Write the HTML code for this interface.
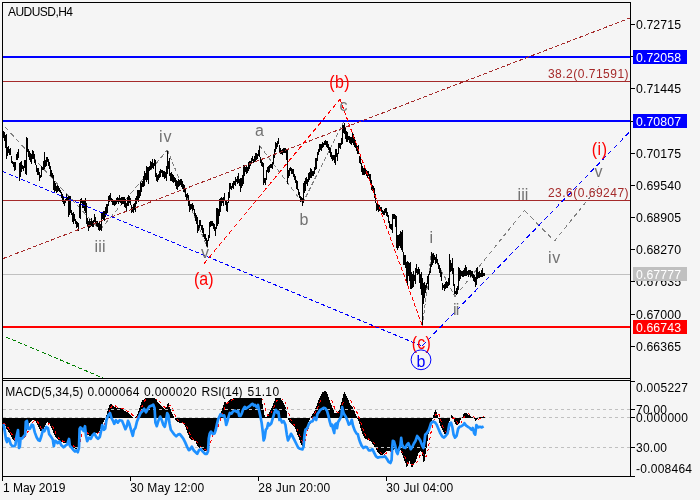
<!DOCTYPE html><html><head><meta charset="utf-8"><title>AUDUSD,H4</title>
<style>html,body{margin:0;padding:0;background:#f5f5f5;overflow:hidden}svg{display:block;will-change:transform}text{font-family:"Liberation Sans",Arial,sans-serif}</style></head><body>
<svg width="700" height="500" viewBox="0 0 700 500">
<rect width="700" height="500" fill="#f5f5f5"/>
<rect x="3" y="274" width="627" height="1" fill="#c0c0c0" shape-rendering="crispEdges"/>
<g fill="none" shape-rendering="crispEdges">
<line x1="5.0" y1="127.0" x2="100.0" y2="230.0" stroke="#808080" stroke-width="1" stroke-dasharray="4.90 3.26" />
<line x1="100.0" y1="230.0" x2="167.4" y2="150.0" stroke="#808080" stroke-width="1" stroke-dasharray="4.71 3.14" />
<line x1="167.4" y1="150.0" x2="207.5" y2="248.0" stroke="#808080" stroke-width="1" stroke-dasharray="3.89 2.59" />
<line x1="259.4" y1="145.5" x2="302.7" y2="203.0" stroke="#808080" stroke-width="1" stroke-dasharray="4.51 3.00" />
<line x1="302.7" y1="203.0" x2="343.6" y2="122.0" stroke="#808080" stroke-width="1" stroke-dasharray="4.03 2.69" />
<line x1="422.5" y1="326.0" x2="431.4" y2="252.0" stroke="#808080" stroke-width="1" stroke-dasharray="3.63 2.42" />
<line x1="431.4" y1="252.0" x2="455.0" y2="296.4" stroke="#808080" stroke-width="1" stroke-dasharray="4.08 2.72" />
<line x1="455.0" y1="296.4" x2="524.4" y2="210.4" stroke="#808080" stroke-width="1" stroke-dasharray="4.63 3.08" />
<line x1="524.4" y1="210.4" x2="554.4" y2="241.2" stroke="#808080" stroke-width="1" stroke-dasharray="5.03 3.35" />
<line x1="554.4" y1="241.2" x2="599.0" y2="186.0" stroke="#808080" stroke-width="1" stroke-dasharray="4.63 3.09" />
</g>
<g fill="#000" shape-rendering="crispEdges">
<rect x="3" y="131" width="1" height="7"/>
<rect x="4" y="132" width="1" height="9"/>
<rect x="5" y="135" width="1" height="13"/>
<rect x="6" y="134" width="1" height="25"/>
<rect x="7" y="147" width="1" height="9"/>
<rect x="8" y="146" width="1" height="7"/>
<rect x="9" y="149" width="1" height="6"/>
<rect x="10" y="148" width="1" height="7"/>
<rect x="11" y="156" width="1" height="7"/>
<rect x="12" y="161" width="1" height="3"/>
<rect x="13" y="162" width="1" height="5"/>
<rect x="14" y="162" width="1" height="9"/>
<rect x="15" y="162" width="1" height="8"/>
<rect x="16" y="154" width="1" height="6"/>
<rect x="17" y="152" width="1" height="8"/>
<rect x="18" y="149" width="1" height="9"/>
<rect x="19" y="163" width="1" height="18"/>
<rect x="20" y="162" width="1" height="15"/>
<rect x="21" y="161" width="1" height="11"/>
<rect x="22" y="165" width="1" height="4"/>
<rect x="23" y="166" width="1" height="5"/>
<rect x="24" y="160" width="1" height="8"/>
<rect x="25" y="160" width="1" height="14"/>
<rect x="26" y="137" width="1" height="38"/>
<rect x="27" y="138" width="1" height="14"/>
<rect x="28" y="149" width="1" height="8"/>
<rect x="29" y="151" width="1" height="9"/>
<rect x="30" y="153" width="1" height="9"/>
<rect x="31" y="154" width="1" height="10"/>
<rect x="32" y="150" width="1" height="9"/>
<rect x="33" y="151" width="1" height="8"/>
<rect x="34" y="154" width="1" height="9"/>
<rect x="35" y="160" width="1" height="5"/>
<rect x="36" y="165" width="1" height="7"/>
<rect x="37" y="168" width="1" height="7"/>
<rect x="38" y="168" width="1" height="7"/>
<rect x="39" y="172" width="1" height="9"/>
<rect x="40" y="175" width="1" height="3"/>
<rect x="41" y="166" width="1" height="11"/>
<rect x="42" y="167" width="1" height="3"/>
<rect x="43" y="161" width="1" height="9"/>
<rect x="44" y="152" width="1" height="17"/>
<rect x="45" y="160" width="1" height="7"/>
<rect x="46" y="157" width="1" height="9"/>
<rect x="47" y="157" width="1" height="5"/>
<rect x="48" y="159" width="1" height="7"/>
<rect x="49" y="162" width="1" height="7"/>
<rect x="50" y="166" width="1" height="10"/>
<rect x="51" y="170" width="1" height="7"/>
<rect x="52" y="173" width="1" height="5"/>
<rect x="53" y="175" width="1" height="15"/>
<rect x="54" y="181" width="1" height="12"/>
<rect x="55" y="183" width="1" height="8"/>
<rect x="56" y="186" width="1" height="7"/>
<rect x="57" y="185" width="1" height="7"/>
<rect x="58" y="186" width="1" height="5"/>
<rect x="59" y="188" width="1" height="4"/>
<rect x="60" y="190" width="1" height="3"/>
<rect x="61" y="192" width="1" height="6"/>
<rect x="62" y="194" width="1" height="8"/>
<rect x="63" y="196" width="1" height="8"/>
<rect x="64" y="200" width="1" height="6"/>
<rect x="65" y="199" width="1" height="4"/>
<rect x="66" y="194" width="1" height="7"/>
<rect x="67" y="197" width="1" height="3"/>
<rect x="68" y="196" width="1" height="21"/>
<rect x="69" y="196" width="1" height="19"/>
<rect x="70" y="196" width="1" height="17"/>
<rect x="71" y="210" width="1" height="5"/>
<rect x="72" y="213" width="1" height="9"/>
<rect x="73" y="212" width="1" height="12"/>
<rect x="74" y="214" width="1" height="7"/>
<rect x="75" y="219" width="1" height="5"/>
<rect x="76" y="221" width="1" height="7"/>
<rect x="77" y="222" width="1" height="5"/>
<rect x="78" y="223" width="1" height="8"/>
<rect x="79" y="204" width="1" height="14"/>
<rect x="80" y="199" width="1" height="20"/>
<rect x="81" y="198" width="1" height="5"/>
<rect x="82" y="200" width="1" height="8"/>
<rect x="83" y="201" width="1" height="7"/>
<rect x="84" y="201" width="1" height="10"/>
<rect x="85" y="198" width="1" height="15"/>
<rect x="86" y="203" width="1" height="21"/>
<rect x="87" y="218" width="1" height="8"/>
<rect x="88" y="221" width="1" height="10"/>
<rect x="89" y="219" width="1" height="9"/>
<rect x="90" y="221" width="1" height="6"/>
<rect x="91" y="218" width="1" height="8"/>
<rect x="92" y="221" width="1" height="6"/>
<rect x="93" y="220" width="1" height="7"/>
<rect x="94" y="214" width="1" height="8"/>
<rect x="95" y="217" width="1" height="7"/>
<rect x="96" y="221" width="1" height="5"/>
<rect x="97" y="221" width="1" height="6"/>
<rect x="98" y="223" width="1" height="7"/>
<rect x="99" y="222" width="1" height="9"/>
<rect x="100" y="224" width="1" height="6"/>
<rect x="101" y="212" width="1" height="19"/>
<rect x="102" y="212" width="1" height="7"/>
<rect x="103" y="211" width="1" height="9"/>
<rect x="104" y="211" width="1" height="10"/>
<rect x="105" y="207" width="1" height="10"/>
<rect x="106" y="204" width="1" height="10"/>
<rect x="107" y="204" width="1" height="9"/>
<rect x="108" y="196" width="1" height="10"/>
<rect x="109" y="195" width="1" height="7"/>
<rect x="110" y="193" width="1" height="7"/>
<rect x="111" y="198" width="1" height="4"/>
<rect x="112" y="199" width="1" height="6"/>
<rect x="113" y="200" width="1" height="5"/>
<rect x="114" y="201" width="1" height="5"/>
<rect x="115" y="201" width="1" height="4"/>
<rect x="116" y="198" width="1" height="6"/>
<rect x="117" y="197" width="1" height="5"/>
<rect x="118" y="198" width="1" height="6"/>
<rect x="119" y="195" width="1" height="7"/>
<rect x="120" y="198" width="1" height="5"/>
<rect x="121" y="197" width="1" height="8"/>
<rect x="122" y="197" width="1" height="7"/>
<rect x="123" y="197" width="1" height="7"/>
<rect x="124" y="197" width="1" height="10"/>
<rect x="125" y="199" width="1" height="9"/>
<rect x="126" y="203" width="1" height="8"/>
<rect x="127" y="197" width="1" height="9"/>
<rect x="128" y="195" width="1" height="11"/>
<rect x="129" y="196" width="1" height="7"/>
<rect x="130" y="198" width="1" height="7"/>
<rect x="131" y="205" width="1" height="8"/>
<rect x="132" y="207" width="1" height="5"/>
<rect x="133" y="204" width="1" height="9"/>
<rect x="134" y="203" width="1" height="7"/>
<rect x="135" y="198" width="1" height="14"/>
<rect x="136" y="196" width="1" height="8"/>
<rect x="137" y="190" width="1" height="11"/>
<rect x="138" y="190" width="1" height="12"/>
<rect x="139" y="190" width="1" height="8"/>
<rect x="140" y="182" width="1" height="14"/>
<rect x="141" y="183" width="1" height="9"/>
<rect x="142" y="181" width="1" height="6"/>
<rect x="143" y="176" width="1" height="11"/>
<rect x="144" y="171" width="1" height="15"/>
<rect x="145" y="173" width="1" height="7"/>
<rect x="146" y="166" width="1" height="16"/>
<rect x="147" y="167" width="1" height="13"/>
<rect x="148" y="167" width="1" height="17"/>
<rect x="149" y="166" width="1" height="5"/>
<rect x="150" y="161" width="1" height="9"/>
<rect x="151" y="162" width="1" height="7"/>
<rect x="152" y="159" width="1" height="9"/>
<rect x="153" y="163" width="1" height="6"/>
<rect x="154" y="159" width="1" height="7"/>
<rect x="155" y="160" width="1" height="17"/>
<rect x="156" y="173" width="1" height="8"/>
<rect x="157" y="175" width="1" height="7"/>
<rect x="158" y="174" width="1" height="6"/>
<rect x="159" y="171" width="1" height="7"/>
<rect x="160" y="169" width="1" height="8"/>
<rect x="161" y="170" width="1" height="3"/>
<rect x="162" y="170" width="1" height="7"/>
<rect x="163" y="171" width="1" height="6"/>
<rect x="164" y="171" width="1" height="8"/>
<rect x="165" y="172" width="1" height="6"/>
<rect x="166" y="166" width="1" height="15"/>
<rect x="167" y="151" width="1" height="23"/>
<rect x="168" y="161" width="1" height="8"/>
<rect x="169" y="158" width="1" height="18"/>
<rect x="170" y="173" width="1" height="8"/>
<rect x="171" y="172" width="1" height="9"/>
<rect x="172" y="174" width="1" height="8"/>
<rect x="173" y="175" width="1" height="8"/>
<rect x="174" y="177" width="1" height="5"/>
<rect x="175" y="178" width="1" height="8"/>
<rect x="176" y="180" width="1" height="9"/>
<rect x="177" y="181" width="1" height="9"/>
<rect x="178" y="179" width="1" height="8"/>
<rect x="179" y="180" width="1" height="6"/>
<rect x="180" y="179" width="1" height="6"/>
<rect x="181" y="179" width="1" height="8"/>
<rect x="182" y="181" width="1" height="8"/>
<rect x="183" y="184" width="1" height="8"/>
<rect x="184" y="185" width="1" height="7"/>
<rect x="185" y="189" width="1" height="8"/>
<rect x="186" y="194" width="1" height="6"/>
<rect x="187" y="193" width="1" height="5"/>
<rect x="188" y="195" width="1" height="11"/>
<rect x="189" y="200" width="1" height="12"/>
<rect x="190" y="204" width="1" height="6"/>
<rect x="191" y="204" width="1" height="5"/>
<rect x="192" y="203" width="1" height="8"/>
<rect x="193" y="205" width="1" height="5"/>
<rect x="194" y="209" width="1" height="7"/>
<rect x="195" y="213" width="1" height="8"/>
<rect x="196" y="215" width="1" height="9"/>
<rect x="197" y="217" width="1" height="16"/>
<rect x="198" y="225" width="1" height="6"/>
<rect x="199" y="220" width="1" height="8"/>
<rect x="200" y="220" width="1" height="6"/>
<rect x="201" y="225" width="1" height="5"/>
<rect x="202" y="225" width="1" height="8"/>
<rect x="203" y="228" width="1" height="9"/>
<rect x="204" y="234" width="1" height="5"/>
<rect x="205" y="234" width="1" height="7"/>
<rect x="206" y="238" width="1" height="8"/>
<rect x="207" y="240" width="1" height="7"/>
<rect x="208" y="235" width="1" height="6"/>
<rect x="209" y="222" width="1" height="16"/>
<rect x="210" y="221" width="1" height="6"/>
<rect x="211" y="221" width="1" height="5"/>
<rect x="212" y="221" width="1" height="5"/>
<rect x="213" y="223" width="1" height="6"/>
<rect x="214" y="224" width="1" height="7"/>
<rect x="215" y="227" width="1" height="9"/>
<rect x="216" y="208" width="1" height="21"/>
<rect x="217" y="208" width="1" height="18"/>
<rect x="218" y="209" width="1" height="15"/>
<rect x="219" y="199" width="1" height="17"/>
<rect x="220" y="198" width="1" height="14"/>
<rect x="221" y="197" width="1" height="9"/>
<rect x="222" y="198" width="1" height="5"/>
<rect x="223" y="197" width="1" height="9"/>
<rect x="224" y="193" width="1" height="8"/>
<rect x="225" y="201" width="1" height="4"/>
<rect x="226" y="201" width="1" height="10"/>
<rect x="227" y="202" width="1" height="10"/>
<rect x="228" y="192" width="1" height="11"/>
<rect x="229" y="183" width="1" height="15"/>
<rect x="230" y="183" width="1" height="6"/>
<rect x="231" y="186" width="1" height="4"/>
<rect x="232" y="183" width="1" height="5"/>
<rect x="233" y="181" width="1" height="8"/>
<rect x="234" y="181" width="1" height="4"/>
<rect x="235" y="177" width="1" height="9"/>
<rect x="236" y="179" width="1" height="3"/>
<rect x="237" y="176" width="1" height="8"/>
<rect x="238" y="173" width="1" height="10"/>
<rect x="239" y="179" width="1" height="7"/>
<rect x="240" y="178" width="1" height="14"/>
<rect x="241" y="178" width="1" height="10"/>
<rect x="242" y="175" width="1" height="11"/>
<rect x="243" y="165" width="1" height="19"/>
<rect x="244" y="166" width="1" height="10"/>
<rect x="245" y="167" width="1" height="5"/>
<rect x="246" y="166" width="1" height="8"/>
<rect x="247" y="167" width="1" height="6"/>
<rect x="248" y="162" width="1" height="9"/>
<rect x="249" y="161" width="1" height="8"/>
<rect x="250" y="161" width="1" height="5"/>
<rect x="251" y="158" width="1" height="6"/>
<rect x="252" y="156" width="1" height="5"/>
<rect x="253" y="159" width="1" height="4"/>
<rect x="254" y="156" width="1" height="6"/>
<rect x="255" y="153" width="1" height="9"/>
<rect x="256" y="153" width="1" height="7"/>
<rect x="257" y="154" width="1" height="5"/>
<rect x="258" y="150" width="1" height="6"/>
<rect x="259" y="146" width="1" height="11"/>
<rect x="260" y="157" width="1" height="6"/>
<rect x="261" y="159" width="1" height="7"/>
<rect x="262" y="162" width="1" height="5"/>
<rect x="263" y="163" width="1" height="22"/>
<rect x="264" y="178" width="1" height="5"/>
<rect x="265" y="178" width="1" height="7"/>
<rect x="266" y="170" width="1" height="10"/>
<rect x="267" y="167" width="1" height="5"/>
<rect x="268" y="166" width="1" height="7"/>
<rect x="269" y="165" width="1" height="7"/>
<rect x="270" y="164" width="1" height="4"/>
<rect x="271" y="164" width="1" height="4"/>
<rect x="272" y="162" width="1" height="7"/>
<rect x="273" y="154" width="1" height="10"/>
<rect x="274" y="149" width="1" height="9"/>
<rect x="275" y="142" width="1" height="10"/>
<rect x="276" y="143" width="1" height="6"/>
<rect x="277" y="141" width="1" height="6"/>
<rect x="278" y="138" width="1" height="6"/>
<rect x="279" y="145" width="1" height="7"/>
<rect x="280" y="148" width="1" height="6"/>
<rect x="281" y="150" width="1" height="4"/>
<rect x="282" y="149" width="1" height="6"/>
<rect x="283" y="148" width="1" height="5"/>
<rect x="284" y="148" width="1" height="5"/>
<rect x="285" y="148" width="1" height="5"/>
<rect x="286" y="150" width="1" height="10"/>
<rect x="287" y="149" width="1" height="35"/>
<rect x="288" y="170" width="1" height="8"/>
<rect x="289" y="168" width="1" height="8"/>
<rect x="290" y="167" width="1" height="4"/>
<rect x="291" y="168" width="1" height="6"/>
<rect x="292" y="169" width="1" height="5"/>
<rect x="293" y="169" width="1" height="8"/>
<rect x="294" y="174" width="1" height="6"/>
<rect x="295" y="176" width="1" height="7"/>
<rect x="296" y="180" width="1" height="9"/>
<rect x="297" y="181" width="1" height="9"/>
<rect x="298" y="189" width="1" height="6"/>
<rect x="299" y="192" width="1" height="6"/>
<rect x="300" y="196" width="1" height="6"/>
<rect x="301" y="197" width="1" height="4"/>
<rect x="302" y="198" width="1" height="8"/>
<rect x="303" y="183" width="1" height="20"/>
<rect x="304" y="181" width="1" height="12"/>
<rect x="305" y="178" width="1" height="13"/>
<rect x="306" y="177" width="1" height="7"/>
<rect x="307" y="179" width="1" height="7"/>
<rect x="308" y="173" width="1" height="9"/>
<rect x="309" y="172" width="1" height="8"/>
<rect x="310" y="168" width="1" height="10"/>
<rect x="311" y="169" width="1" height="9"/>
<rect x="312" y="171" width="1" height="5"/>
<rect x="313" y="171" width="1" height="5"/>
<rect x="314" y="167" width="1" height="7"/>
<rect x="315" y="158" width="1" height="12"/>
<rect x="316" y="158" width="1" height="11"/>
<rect x="317" y="152" width="1" height="9"/>
<rect x="318" y="149" width="1" height="6"/>
<rect x="319" y="144" width="1" height="8"/>
<rect x="320" y="144" width="1" height="6"/>
<rect x="321" y="144" width="1" height="7"/>
<rect x="322" y="142" width="1" height="6"/>
<rect x="323" y="143" width="1" height="4"/>
<rect x="324" y="141" width="1" height="4"/>
<rect x="325" y="140" width="1" height="5"/>
<rect x="326" y="141" width="1" height="6"/>
<rect x="327" y="141" width="1" height="7"/>
<rect x="328" y="144" width="1" height="6"/>
<rect x="329" y="147" width="1" height="6"/>
<rect x="330" y="148" width="1" height="9"/>
<rect x="331" y="152" width="1" height="7"/>
<rect x="332" y="155" width="1" height="6"/>
<rect x="333" y="155" width="1" height="5"/>
<rect x="334" y="155" width="1" height="8"/>
<rect x="335" y="149" width="1" height="16"/>
<rect x="336" y="149" width="1" height="8"/>
<rect x="337" y="153" width="1" height="8"/>
<rect x="338" y="143" width="1" height="11"/>
<rect x="339" y="143" width="1" height="5"/>
<rect x="340" y="143" width="1" height="6"/>
<rect x="341" y="138" width="1" height="7"/>
<rect x="342" y="125" width="1" height="19"/>
<rect x="343" y="125" width="1" height="8"/>
<rect x="344" y="123" width="1" height="11"/>
<rect x="345" y="128" width="1" height="11"/>
<rect x="346" y="131" width="1" height="11"/>
<rect x="347" y="132" width="1" height="10"/>
<rect x="348" y="136" width="1" height="4"/>
<rect x="349" y="136" width="1" height="7"/>
<rect x="350" y="137" width="1" height="7"/>
<rect x="351" y="137" width="1" height="8"/>
<rect x="352" y="133" width="1" height="10"/>
<rect x="353" y="134" width="1" height="11"/>
<rect x="354" y="137" width="1" height="10"/>
<rect x="355" y="140" width="1" height="8"/>
<rect x="356" y="144" width="1" height="7"/>
<rect x="357" y="146" width="1" height="8"/>
<rect x="358" y="145" width="1" height="9"/>
<rect x="359" y="156" width="1" height="7"/>
<rect x="360" y="155" width="1" height="9"/>
<rect x="361" y="163" width="1" height="9"/>
<rect x="362" y="166" width="1" height="9"/>
<rect x="363" y="168" width="1" height="7"/>
<rect x="364" y="167" width="1" height="8"/>
<rect x="365" y="168" width="1" height="6"/>
<rect x="366" y="170" width="1" height="6"/>
<rect x="367" y="171" width="1" height="7"/>
<rect x="368" y="171" width="1" height="5"/>
<rect x="369" y="174" width="1" height="5"/>
<rect x="370" y="174" width="1" height="11"/>
<rect x="371" y="180" width="1" height="10"/>
<rect x="372" y="185" width="1" height="6"/>
<rect x="373" y="186" width="1" height="4"/>
<rect x="374" y="188" width="1" height="10"/>
<rect x="375" y="194" width="1" height="9"/>
<rect x="376" y="203" width="1" height="8"/>
<rect x="377" y="203" width="1" height="7"/>
<rect x="378" y="204" width="1" height="8"/>
<rect x="379" y="205" width="1" height="6"/>
<rect x="380" y="207" width="1" height="4"/>
<rect x="381" y="207" width="1" height="5"/>
<rect x="382" y="210" width="1" height="4"/>
<rect x="383" y="211" width="1" height="4"/>
<rect x="384" y="209" width="1" height="6"/>
<rect x="385" y="208" width="1" height="5"/>
<rect x="386" y="208" width="1" height="8"/>
<rect x="387" y="212" width="1" height="5"/>
<rect x="388" y="215" width="1" height="8"/>
<rect x="389" y="221" width="1" height="7"/>
<rect x="390" y="224" width="1" height="5"/>
<rect x="391" y="224" width="1" height="6"/>
<rect x="392" y="214" width="1" height="19"/>
<rect x="393" y="214" width="1" height="5"/>
<rect x="394" y="214" width="1" height="5"/>
<rect x="395" y="215" width="1" height="12"/>
<rect x="396" y="216" width="1" height="32"/>
<rect x="397" y="235" width="1" height="15"/>
<rect x="398" y="235" width="1" height="13"/>
<rect x="399" y="234" width="1" height="12"/>
<rect x="400" y="231" width="1" height="17"/>
<rect x="401" y="232" width="1" height="18"/>
<rect x="402" y="230" width="1" height="22"/>
<rect x="403" y="252" width="1" height="13"/>
<rect x="404" y="255" width="1" height="10"/>
<rect x="405" y="255" width="1" height="13"/>
<rect x="406" y="262" width="1" height="20"/>
<rect x="407" y="261" width="1" height="24"/>
<rect x="408" y="262" width="1" height="14"/>
<rect x="409" y="263" width="1" height="18"/>
<rect x="410" y="262" width="1" height="27"/>
<rect x="411" y="272" width="1" height="17"/>
<rect x="412" y="274" width="1" height="14"/>
<rect x="413" y="271" width="1" height="16"/>
<rect x="414" y="275" width="1" height="6"/>
<rect x="415" y="268" width="1" height="16"/>
<rect x="416" y="264" width="1" height="9"/>
<rect x="417" y="269" width="1" height="6"/>
<rect x="418" y="267" width="1" height="7"/>
<rect x="419" y="269" width="1" height="14"/>
<rect x="420" y="274" width="1" height="15"/>
<rect x="421" y="272" width="1" height="23"/>
<rect x="422" y="278" width="1" height="47"/>
<rect x="423" y="283" width="1" height="21"/>
<rect x="424" y="282" width="1" height="16"/>
<rect x="425" y="285" width="1" height="8"/>
<rect x="426" y="283" width="1" height="5"/>
<rect x="427" y="276" width="1" height="8"/>
<rect x="428" y="274" width="1" height="16"/>
<rect x="429" y="271" width="1" height="4"/>
<rect x="430" y="264" width="1" height="9"/>
<rect x="431" y="252" width="1" height="15"/>
<rect x="432" y="254" width="1" height="11"/>
<rect x="433" y="253" width="1" height="10"/>
<rect x="434" y="255" width="1" height="5"/>
<rect x="435" y="257" width="1" height="7"/>
<rect x="436" y="254" width="1" height="9"/>
<rect x="437" y="259" width="1" height="5"/>
<rect x="438" y="263" width="1" height="6"/>
<rect x="439" y="265" width="1" height="8"/>
<rect x="440" y="268" width="1" height="9"/>
<rect x="441" y="272" width="1" height="9"/>
<rect x="442" y="283" width="1" height="7"/>
<rect x="443" y="285" width="1" height="3"/>
<rect x="444" y="284" width="1" height="7"/>
<rect x="445" y="282" width="1" height="7"/>
<rect x="446" y="281" width="1" height="7"/>
<rect x="447" y="282" width="1" height="6"/>
<rect x="448" y="278" width="1" height="8"/>
<rect x="449" y="254" width="1" height="31"/>
<rect x="450" y="260" width="1" height="12"/>
<rect x="451" y="263" width="1" height="8"/>
<rect x="452" y="258" width="1" height="16"/>
<rect x="453" y="268" width="1" height="18"/>
<rect x="454" y="284" width="1" height="10"/>
<rect x="455" y="291" width="1" height="3"/>
<rect x="456" y="288" width="1" height="7"/>
<rect x="457" y="286" width="1" height="8"/>
<rect x="458" y="267" width="1" height="23"/>
<rect x="459" y="268" width="1" height="13"/>
<rect x="460" y="270" width="1" height="9"/>
<rect x="461" y="271" width="1" height="5"/>
<rect x="462" y="271" width="1" height="6"/>
<rect x="463" y="270" width="1" height="7"/>
<rect x="464" y="268" width="1" height="8"/>
<rect x="465" y="265" width="1" height="11"/>
<rect x="466" y="267" width="1" height="9"/>
<rect x="467" y="271" width="1" height="4"/>
<rect x="468" y="270" width="1" height="7"/>
<rect x="469" y="270" width="1" height="5"/>
<rect x="470" y="270" width="1" height="7"/>
<rect x="471" y="271" width="1" height="5"/>
<rect x="472" y="271" width="1" height="7"/>
<rect x="473" y="274" width="1" height="7"/>
<rect x="474" y="275" width="1" height="7"/>
<rect x="475" y="277" width="1" height="10"/>
<rect x="476" y="268" width="1" height="17"/>
<rect x="477" y="267" width="1" height="12"/>
<rect x="478" y="272" width="1" height="6"/>
<rect x="479" y="271" width="1" height="7"/>
<rect x="480" y="273" width="1" height="4"/>
<rect x="481" y="270" width="1" height="7"/>
<rect x="482" y="268" width="1" height="9"/>
<rect x="483" y="273" width="1" height="3"/>
<rect x="484" y="273" width="1" height="3"/>
</g>
<g shape-rendering="crispEdges">
<rect x="3" y="81" width="627" height="1" fill="#a52a2a"/>
<rect x="3" y="200" width="627" height="1" fill="#a52a2a"/>
<rect x="3" y="56" width="627" height="2" fill="#0000ff"/>
<rect x="3" y="120" width="627" height="2" fill="#0000ff"/>
<rect x="3" y="326" width="627" height="2" fill="#ff0000"/>
</g>
<g fill="none" shape-rendering="crispEdges" clip-path="url(#mc)">
<clipPath id="mc"><rect x="3" y="3" width="627" height="375"/></clipPath>
<line x1="3.0" y1="258.6" x2="630.0" y2="18.0" stroke="#a52a2a" stroke-width="1" stroke-dasharray="3.86 2.57" />
<line x1="6.0" y1="337.0" x2="103.0" y2="378.0" stroke="#008000" stroke-width="1" stroke-dasharray="3.91 2.61" />
<line x1="3.0" y1="171.6" x2="422.0" y2="346.0" stroke="#0000ff" stroke-width="1" stroke-dasharray="3.90 2.60" />
<line x1="422.0" y1="346.0" x2="629.5" y2="132.0" stroke="#0000ff" stroke-width="1" stroke-dasharray="5.01 3.34" />
<line x1="204.0" y1="263.6" x2="340.0" y2="99.2" stroke="#ff0000" stroke-width="1" stroke-dasharray="4.67 3.11" />
<line x1="340.0" y1="99.2" x2="422.4" y2="326.0" stroke="#ff0000" stroke-width="1" stroke-dasharray="3.83 2.55" />
</g>
<g fill="#000" shape-rendering="crispEdges">
<rect x="2" y="2" width="629" height="1"/>
<rect x="2" y="2" width="1" height="479"/>
<rect x="630" y="2" width="1" height="475"/>
<rect x="2" y="378" width="629" height="1"/>
<rect x="2" y="380" width="629" height="1"/>
<rect x="2" y="476" width="633" height="1"/>
<rect x="631" y="24" width="4" height="1"/>
<rect x="631" y="88" width="4" height="1"/>
<rect x="631" y="153" width="4" height="1"/>
<rect x="631" y="185" width="4" height="1"/>
<rect x="631" y="217" width="4" height="1"/>
<rect x="631" y="249" width="4" height="1"/>
<rect x="631" y="281" width="4" height="1"/>
<rect x="631" y="314" width="4" height="1"/>
<rect x="631" y="346" width="4" height="1"/>
<rect x="631" y="56" width="4" height="1"/>
<rect x="631" y="121" width="4" height="1"/>
<rect x="631" y="381" width="4" height="1"/>
<rect x="631" y="409" width="4" height="1"/>
<rect x="631" y="417" width="4" height="1"/>
<rect x="631" y="447" width="4" height="1"/>
<rect x="130" y="477" width="1" height="4"/>
<rect x="258" y="477" width="1" height="4"/>
<rect x="386" y="477" width="1" height="4"/>
</g>
<g>
<text x="636" y="29" font-size="12.3" fill="#000" text-anchor="start" textLength="45" lengthAdjust="spacing" >0.72715</text>
<text x="636" y="93" font-size="12.3" fill="#000" text-anchor="start" textLength="45" lengthAdjust="spacing" >0.71445</text>
<text x="636" y="158" font-size="12.3" fill="#000" text-anchor="start" textLength="45" lengthAdjust="spacing" >0.70175</text>
<text x="636" y="190" font-size="12.3" fill="#000" text-anchor="start" textLength="45" lengthAdjust="spacing" >0.69540</text>
<text x="636" y="222" font-size="12.3" fill="#000" text-anchor="start" textLength="45" lengthAdjust="spacing" >0.68905</text>
<text x="636" y="254" font-size="12.3" fill="#000" text-anchor="start" textLength="45" lengthAdjust="spacing" >0.68270</text>
<text x="636" y="286" font-size="12.3" fill="#000" text-anchor="start" textLength="45" lengthAdjust="spacing" >0.67635</text>
<text x="636" y="319" font-size="12.3" fill="#000" text-anchor="start" textLength="45" lengthAdjust="spacing" >0.67000</text>
<text x="636" y="351" font-size="12.3" fill="#000" text-anchor="start" textLength="45" lengthAdjust="spacing" >0.66365</text>
<rect x="633" y="50" width="54" height="14" fill="#0000ff" shape-rendering="crispEdges"/>
<text x="636" y="62" font-size="12.3" fill="#fff" text-anchor="start" textLength="45" lengthAdjust="spacing" >0.72058</text>
<rect x="633" y="114" width="54" height="14" fill="#0000ff" shape-rendering="crispEdges"/>
<text x="636" y="126" font-size="12.3" fill="#fff" text-anchor="start" textLength="45" lengthAdjust="spacing" >0.70807</text>
<rect x="633" y="267" width="54" height="14" fill="#c0c0c0" shape-rendering="crispEdges"/>
<text x="636" y="279" font-size="12.3" fill="#fff" text-anchor="start" textLength="45" lengthAdjust="spacing" >0.67777</text>
<rect x="633" y="320" width="54" height="14" fill="#ff0000" shape-rendering="crispEdges"/>
<text x="636" y="332" font-size="12.3" fill="#fff" text-anchor="start" textLength="45" lengthAdjust="spacing" >0.66743</text>
<text x="636" y="392" font-size="12" fill="#000" text-anchor="start" textLength="52" lengthAdjust="spacing" >0.005227</text>
<text x="636" y="413.5" font-size="12" fill="#000" text-anchor="start" textLength="31" lengthAdjust="spacing" >70.00</text>
<text x="636" y="421.5" font-size="12" fill="#000" text-anchor="start" textLength="52" lengthAdjust="spacing" >0.000000</text>
<text x="636" y="451.5" font-size="12" fill="#000" text-anchor="start" textLength="31" lengthAdjust="spacing" >30.00</text>
<text x="636" y="473.3" font-size="12" fill="#000" text-anchor="start" textLength="56" lengthAdjust="spacing" >-0.008464</text>
<text x="3" y="491.5" font-size="12" fill="#000" text-anchor="start" textLength="62.4" lengthAdjust="spacing" >1 May 2019</text>
<text x="130.3" y="491.5" font-size="12" fill="#000" text-anchor="start" textLength="74" lengthAdjust="spacing" >30 May 12:00</text>
<text x="258.3" y="491.5" font-size="12" fill="#000" text-anchor="start" textLength="72" lengthAdjust="spacing" >28 Jun 20:00</text>
<text x="386.3" y="491.5" font-size="12" fill="#000" text-anchor="start" textLength="67" lengthAdjust="spacing" >30 Jul 04:00</text>
<text x="8" y="15.7" font-size="12" fill="#000" text-anchor="start" textLength="65" lengthAdjust="spacing" >AUDUSD,H4</text>
<text x="5.2" y="396" font-size="12" fill="#000" text-anchor="start" textLength="78" lengthAdjust="spacing" >MACD(5,34,5)</text>
<text x="87.4" y="396" font-size="12" fill="#000" text-anchor="start" textLength="52" lengthAdjust="spacing" >0.000064</text>
<text x="144.1" y="396" font-size="12" fill="#000" text-anchor="start" textLength="52.5" lengthAdjust="spacing" >0.000020</text>
<text x="201.6" y="396" font-size="12" fill="#000" text-anchor="start" textLength="41" lengthAdjust="spacing" >RSI(14)</text>
<text x="247.6" y="396" font-size="12" fill="#000" text-anchor="start" textLength="31.5" lengthAdjust="spacing" >51.10</text>
<text x="547.9" y="78" font-size="12" fill="#a52a2a" text-anchor="start" textLength="80.7" lengthAdjust="spacing" >38.2(0.71591)</text>
<text x="547.9" y="196.9" font-size="12" fill="#a52a2a" text-anchor="start" textLength="80.7" lengthAdjust="spacing" >23.6(0.69247)</text>
</g>
<g font-size="16">
<text x="0" y="0" font-size="16" fill="#ff0000" text-anchor="start" textLength="20.4" lengthAdjust="spacing" transform="translate(329.2 87.6) scale(1 1.12)">(b)</text>
<text x="0" y="0" font-size="16" fill="#ff0000" text-anchor="start" textLength="19.6" lengthAdjust="spacing" transform="translate(194 284.6) scale(1 1.12)">(a)</text>
<text x="0" y="0" font-size="16" fill="#ff0000" text-anchor="start" textLength="19" lengthAdjust="spacing" transform="translate(411.8 349.2) scale(1 1.12)">(c)</text>
<text x="0" y="0" font-size="16" fill="#ff0000" text-anchor="start" textLength="15.2" lengthAdjust="spacing" transform="translate(591.8 154.6) scale(1 1.12)">(i)</text>
<text x="94.5" y="251.5" font-size="16" fill="#727272" text-anchor="start" textLength="11.1" lengthAdjust="spacing" >iii</text>
<text x="159" y="141.5" font-size="16" fill="#727272" text-anchor="start" textLength="12.6" lengthAdjust="spacing" >iv</text>
<text x="201" y="258" font-size="16" fill="#727272" text-anchor="start" >v</text>
<text x="255" y="136.4" font-size="16" fill="#727272" text-anchor="start" >a</text>
<text x="299.5" y="224.6" font-size="16" fill="#727272" text-anchor="start" >b</text>
<text x="339.4" y="110.8" font-size="16" fill="#727272" text-anchor="start" >c</text>
<text x="429.6" y="242.9" font-size="16" fill="#727272" text-anchor="start" >i</text>
<text x="452.9" y="315" font-size="16" fill="#727272" text-anchor="start" textLength="6.4" lengthAdjust="spacing" >ii</text>
<text x="517.6" y="200" font-size="16" fill="#727272" text-anchor="start" textLength="10.8" lengthAdjust="spacing" >iii</text>
<text x="548" y="263" font-size="16" fill="#727272" text-anchor="start" textLength="12.2" lengthAdjust="spacing" >iv</text>
<text x="594.6" y="176.8" font-size="16" fill="#727272" text-anchor="start" >v</text>
<circle cx="421" cy="359.8" r="9.9" fill="none" stroke="#0000ff" stroke-width="1"/>
<text x="416.4" y="366.8" font-size="16" fill="#0000ff" text-anchor="start" >b</text>
</g>
<line x1="3" y1="417.5" x2="630" y2="417.5" stroke="#c0c0c0" stroke-width="1" stroke-dasharray="3 3" shape-rendering="crispEdges"/>
<clipPath id="ic"><rect x="3" y="399" width="627" height="77"/></clipPath>
<g shape-rendering="crispEdges">
<rect x="3" y="418" width="1" height="5" fill="#000"/>
<rect x="4" y="418" width="1" height="7" fill="#000"/>
<rect x="5" y="418" width="1" height="8" fill="#000"/>
<rect x="6" y="418" width="1" height="11" fill="#000"/>
<rect x="7" y="418" width="1" height="12" fill="#000"/>
<rect x="8" y="418" width="1" height="14" fill="#000"/>
<rect x="9" y="418" width="1" height="15" fill="#000"/>
<rect x="10" y="418" width="1" height="17" fill="#000"/>
<rect x="11" y="418" width="1" height="19" fill="#000"/>
<rect x="12" y="418" width="1" height="21" fill="#000"/>
<rect x="13" y="418" width="1" height="22" fill="#000"/>
<rect x="14" y="418" width="1" height="23" fill="#000"/>
<rect x="15" y="418" width="1" height="24" fill="#000"/>
<rect x="16" y="418" width="1" height="23" fill="#000"/>
<rect x="17" y="418" width="1" height="20" fill="#000"/>
<rect x="18" y="418" width="1" height="18" fill="#000"/>
<rect x="19" y="418" width="1" height="19" fill="#000"/>
<rect x="20" y="418" width="1" height="20" fill="#000"/>
<rect x="21" y="418" width="1" height="20" fill="#000"/>
<rect x="22" y="418" width="1" height="20" fill="#000"/>
<rect x="23" y="418" width="1" height="18" fill="#000"/>
<rect x="24" y="418" width="1" height="17" fill="#000"/>
<rect x="25" y="418" width="1" height="15" fill="#000"/>
<rect x="26" y="418" width="1" height="13" fill="#000"/>
<rect x="27" y="418" width="1" height="10" fill="#000"/>
<rect x="28" y="418" width="1" height="8" fill="#000"/>
<rect x="29" y="418" width="1" height="5" fill="#000"/>
<rect x="30" y="418" width="1" height="4" fill="#000"/>
<rect x="31" y="418" width="1" height="3" fill="#000"/>
<rect x="32" y="418" width="1" height="2" fill="#000"/>
<rect x="33" y="418" width="1" height="2" fill="#000"/>
<rect x="34" y="418" width="1" height="2" fill="#000"/>
<rect x="35" y="418" width="1" height="3" fill="#000"/>
<rect x="36" y="418" width="1" height="5" fill="#000"/>
<rect x="37" y="418" width="1" height="7" fill="#000"/>
<rect x="38" y="418" width="1" height="9" fill="#000"/>
<rect x="39" y="418" width="1" height="11" fill="#000"/>
<rect x="40" y="418" width="1" height="13" fill="#000"/>
<rect x="41" y="418" width="1" height="13" fill="#000"/>
<rect x="42" y="418" width="1" height="12" fill="#000"/>
<rect x="43" y="418" width="1" height="11" fill="#000"/>
<rect x="44" y="418" width="1" height="9" fill="#000"/>
<rect x="45" y="418" width="1" height="7" fill="#000"/>
<rect x="46" y="418" width="1" height="5" fill="#000"/>
<rect x="47" y="418" width="1" height="4" fill="#000"/>
<rect x="48" y="418" width="1" height="5" fill="#000"/>
<rect x="49" y="418" width="1" height="6" fill="#000"/>
<rect x="50" y="418" width="1" height="8" fill="#000"/>
<rect x="51" y="418" width="1" height="10" fill="#000"/>
<rect x="52" y="418" width="1" height="12" fill="#000"/>
<rect x="53" y="418" width="1" height="15" fill="#000"/>
<rect x="54" y="418" width="1" height="17" fill="#000"/>
<rect x="55" y="418" width="1" height="19" fill="#000"/>
<rect x="56" y="418" width="1" height="20" fill="#000"/>
<rect x="57" y="418" width="1" height="21" fill="#000"/>
<rect x="58" y="418" width="1" height="22" fill="#000"/>
<rect x="59" y="418" width="1" height="23" fill="#000"/>
<rect x="60" y="418" width="1" height="23" fill="#000"/>
<rect x="61" y="418" width="1" height="24" fill="#000"/>
<rect x="62" y="418" width="1" height="24" fill="#000"/>
<rect x="63" y="418" width="1" height="25" fill="#000"/>
<rect x="64" y="418" width="1" height="25" fill="#000"/>
<rect x="65" y="418" width="1" height="25" fill="#000"/>
<rect x="66" y="418" width="1" height="25" fill="#000"/>
<rect x="67" y="418" width="1" height="26" fill="#000"/>
<rect x="68" y="418" width="1" height="26" fill="#000"/>
<rect x="69" y="418" width="1" height="27" fill="#000"/>
<rect x="70" y="418" width="1" height="27" fill="#000"/>
<rect x="71" y="418" width="1" height="28" fill="#000"/>
<rect x="72" y="418" width="1" height="29" fill="#000"/>
<rect x="73" y="418" width="1" height="30" fill="#000"/>
<rect x="74" y="418" width="1" height="30" fill="#000"/>
<rect x="75" y="418" width="1" height="31" fill="#000"/>
<rect x="76" y="418" width="1" height="31" fill="#000"/>
<rect x="77" y="418" width="1" height="30" fill="#000"/>
<rect x="78" y="418" width="1" height="28" fill="#000"/>
<rect x="79" y="418" width="1" height="11" fill="#000"/>
<rect x="80" y="418" width="1" height="10" fill="#000"/>
<rect x="81" y="418" width="1" height="11" fill="#000"/>
<rect x="82" y="418" width="1" height="12" fill="#000"/>
<rect x="83" y="418" width="1" height="13" fill="#000"/>
<rect x="84" y="418" width="1" height="14" fill="#000"/>
<rect x="85" y="418" width="1" height="15" fill="#000"/>
<rect x="86" y="418" width="1" height="16" fill="#000"/>
<rect x="87" y="418" width="1" height="17" fill="#000"/>
<rect x="88" y="418" width="1" height="17" fill="#000"/>
<rect x="89" y="418" width="1" height="18" fill="#000"/>
<rect x="90" y="418" width="1" height="18" fill="#000"/>
<rect x="91" y="418" width="1" height="17" fill="#000"/>
<rect x="92" y="418" width="1" height="17" fill="#000"/>
<rect x="93" y="418" width="1" height="16" fill="#000"/>
<rect x="94" y="418" width="1" height="15" fill="#000"/>
<rect x="95" y="418" width="1" height="15" fill="#000"/>
<rect x="96" y="418" width="1" height="15" fill="#000"/>
<rect x="97" y="418" width="1" height="15" fill="#000"/>
<rect x="98" y="418" width="1" height="14" fill="#000"/>
<rect x="99" y="418" width="1" height="13" fill="#000"/>
<rect x="100" y="418" width="1" height="11" fill="#000"/>
<rect x="101" y="418" width="1" height="8" fill="#000"/>
<rect x="102" y="418" width="1" height="6" fill="#000"/>
<rect x="103" y="418" width="1" height="4" fill="#000"/>
<rect x="104" y="418" width="1" height="2" fill="#000"/>
<rect x="106" y="415" width="1" height="3" fill="#000"/>
<rect x="107" y="411" width="1" height="7" fill="#000"/>
<rect x="108" y="408" width="1" height="10" fill="#000"/>
<rect x="109" y="405" width="1" height="13" fill="#000"/>
<rect x="110" y="404" width="1" height="14" fill="#000"/>
<rect x="111" y="404" width="1" height="14" fill="#000"/>
<rect x="112" y="405" width="1" height="13" fill="#000"/>
<rect x="113" y="406" width="1" height="12" fill="#000"/>
<rect x="114" y="407" width="1" height="11" fill="#000"/>
<rect x="115" y="407" width="1" height="11" fill="#000"/>
<rect x="116" y="408" width="1" height="10" fill="#000"/>
<rect x="117" y="408" width="1" height="10" fill="#000"/>
<rect x="118" y="408" width="1" height="10" fill="#000"/>
<rect x="119" y="408" width="1" height="10" fill="#000"/>
<rect x="120" y="408" width="1" height="10" fill="#000"/>
<rect x="121" y="408" width="1" height="10" fill="#000"/>
<rect x="122" y="409" width="1" height="9" fill="#000"/>
<rect x="123" y="410" width="1" height="8" fill="#000"/>
<rect x="124" y="411" width="1" height="7" fill="#000"/>
<rect x="125" y="411" width="1" height="7" fill="#000"/>
<rect x="126" y="412" width="1" height="6" fill="#000"/>
<rect x="127" y="412" width="1" height="6" fill="#000"/>
<rect x="128" y="413" width="1" height="5" fill="#000"/>
<rect x="129" y="414" width="1" height="4" fill="#000"/>
<rect x="130" y="415" width="1" height="3" fill="#000"/>
<rect x="131" y="416" width="1" height="2" fill="#000"/>
<rect x="132" y="417" width="1" height="1" fill="#000"/>
<rect x="135" y="417" width="1" height="1" fill="#000"/>
<rect x="136" y="416" width="1" height="2" fill="#000"/>
<rect x="137" y="414" width="1" height="4" fill="#000"/>
<rect x="138" y="411" width="1" height="7" fill="#000"/>
<rect x="139" y="408" width="1" height="10" fill="#000"/>
<rect x="140" y="405" width="1" height="13" fill="#000"/>
<rect x="141" y="402" width="1" height="16" fill="#000"/>
<rect x="142" y="400" width="1" height="18" fill="#000"/>
<rect x="143" y="400" width="1" height="18" fill="#000"/>
<rect x="144" y="399" width="1" height="19" fill="#000"/>
<rect x="145" y="398" width="1" height="20" fill="#000"/>
<rect x="146" y="398" width="1" height="20" fill="#000"/>
<rect x="147" y="398" width="1" height="20" fill="#000"/>
<rect x="148" y="398" width="1" height="20" fill="#000"/>
<rect x="149" y="398" width="1" height="20" fill="#000"/>
<rect x="150" y="398" width="1" height="20" fill="#000"/>
<rect x="151" y="398" width="1" height="20" fill="#000"/>
<rect x="152" y="398" width="1" height="20" fill="#000"/>
<rect x="153" y="398" width="1" height="20" fill="#000"/>
<rect x="154" y="398" width="1" height="20" fill="#000"/>
<rect x="155" y="399" width="1" height="19" fill="#000"/>
<rect x="156" y="400" width="1" height="18" fill="#000"/>
<rect x="157" y="402" width="1" height="16" fill="#000"/>
<rect x="158" y="403" width="1" height="15" fill="#000"/>
<rect x="159" y="404" width="1" height="14" fill="#000"/>
<rect x="160" y="405" width="1" height="13" fill="#000"/>
<rect x="161" y="406" width="1" height="12" fill="#000"/>
<rect x="162" y="407" width="1" height="11" fill="#000"/>
<rect x="163" y="408" width="1" height="10" fill="#000"/>
<rect x="164" y="409" width="1" height="9" fill="#000"/>
<rect x="165" y="408" width="1" height="10" fill="#000"/>
<rect x="166" y="407" width="1" height="11" fill="#000"/>
<rect x="167" y="404" width="1" height="14" fill="#000"/>
<rect x="168" y="403" width="1" height="15" fill="#000"/>
<rect x="169" y="407" width="1" height="11" fill="#000"/>
<rect x="170" y="409" width="1" height="9" fill="#000"/>
<rect x="171" y="412" width="1" height="6" fill="#000"/>
<rect x="172" y="414" width="1" height="4" fill="#000"/>
<rect x="173" y="416" width="1" height="2" fill="#000"/>
<rect x="175" y="418" width="1" height="2" fill="#000"/>
<rect x="176" y="418" width="1" height="3" fill="#000"/>
<rect x="177" y="418" width="1" height="4" fill="#000"/>
<rect x="178" y="418" width="1" height="4" fill="#000"/>
<rect x="179" y="418" width="1" height="5" fill="#000"/>
<rect x="180" y="418" width="1" height="5" fill="#000"/>
<rect x="181" y="418" width="1" height="5" fill="#000"/>
<rect x="182" y="418" width="1" height="5" fill="#000"/>
<rect x="183" y="418" width="1" height="6" fill="#000"/>
<rect x="184" y="418" width="1" height="7" fill="#000"/>
<rect x="185" y="418" width="1" height="9" fill="#000"/>
<rect x="186" y="418" width="1" height="12" fill="#000"/>
<rect x="187" y="418" width="1" height="15" fill="#000"/>
<rect x="188" y="418" width="1" height="17" fill="#000"/>
<rect x="189" y="418" width="1" height="20" fill="#000"/>
<rect x="190" y="418" width="1" height="21" fill="#000"/>
<rect x="191" y="418" width="1" height="22" fill="#000"/>
<rect x="192" y="418" width="1" height="22" fill="#000"/>
<rect x="193" y="418" width="1" height="22" fill="#000"/>
<rect x="194" y="418" width="1" height="23" fill="#000"/>
<rect x="195" y="418" width="1" height="23" fill="#000"/>
<rect x="196" y="418" width="1" height="26" fill="#000"/>
<rect x="197" y="418" width="1" height="28" fill="#000"/>
<rect x="198" y="418" width="1" height="29" fill="#000"/>
<rect x="199" y="418" width="1" height="30" fill="#000"/>
<rect x="200" y="418" width="1" height="29" fill="#000"/>
<rect x="201" y="418" width="1" height="30" fill="#000"/>
<rect x="202" y="418" width="1" height="31" fill="#000"/>
<rect x="203" y="418" width="1" height="32" fill="#000"/>
<rect x="204" y="418" width="1" height="33" fill="#000"/>
<rect x="205" y="418" width="1" height="33" fill="#000"/>
<rect x="206" y="418" width="1" height="33" fill="#000"/>
<rect x="207" y="418" width="1" height="32" fill="#000"/>
<rect x="208" y="418" width="1" height="28" fill="#000"/>
<rect x="209" y="418" width="1" height="16" fill="#000"/>
<rect x="210" y="418" width="1" height="14" fill="#000"/>
<rect x="211" y="418" width="1" height="14" fill="#000"/>
<rect x="212" y="418" width="1" height="15" fill="#000"/>
<rect x="213" y="418" width="1" height="15" fill="#000"/>
<rect x="214" y="418" width="1" height="14" fill="#000"/>
<rect x="215" y="418" width="1" height="10" fill="#000"/>
<rect x="216" y="418" width="1" height="6" fill="#000"/>
<rect x="217" y="418" width="1" height="4" fill="#000"/>
<rect x="218" y="418" width="1" height="2" fill="#000"/>
<rect x="220" y="415" width="1" height="3" fill="#000"/>
<rect x="221" y="411" width="1" height="7" fill="#000"/>
<rect x="222" y="408" width="1" height="10" fill="#000"/>
<rect x="223" y="405" width="1" height="13" fill="#000"/>
<rect x="224" y="402" width="1" height="16" fill="#000"/>
<rect x="225" y="402" width="1" height="16" fill="#000"/>
<rect x="226" y="403" width="1" height="15" fill="#000"/>
<rect x="227" y="402" width="1" height="16" fill="#000"/>
<rect x="228" y="401" width="1" height="17" fill="#000"/>
<rect x="229" y="400" width="1" height="18" fill="#000"/>
<rect x="230" y="399" width="1" height="19" fill="#000"/>
<rect x="231" y="399" width="1" height="19" fill="#000"/>
<rect x="232" y="399" width="1" height="19" fill="#000"/>
<rect x="233" y="398" width="1" height="20" fill="#000"/>
<rect x="234" y="398" width="1" height="20" fill="#000"/>
<rect x="235" y="398" width="1" height="20" fill="#000"/>
<rect x="236" y="398" width="1" height="20" fill="#000"/>
<rect x="237" y="398" width="1" height="20" fill="#000"/>
<rect x="238" y="398" width="1" height="20" fill="#000"/>
<rect x="239" y="398" width="1" height="20" fill="#000"/>
<rect x="240" y="398" width="1" height="20" fill="#000"/>
<rect x="241" y="398" width="1" height="20" fill="#000"/>
<rect x="242" y="398" width="1" height="20" fill="#000"/>
<rect x="243" y="398" width="1" height="20" fill="#000"/>
<rect x="244" y="398" width="1" height="20" fill="#000"/>
<rect x="245" y="398" width="1" height="20" fill="#000"/>
<rect x="246" y="398" width="1" height="20" fill="#000"/>
<rect x="247" y="398" width="1" height="20" fill="#000"/>
<rect x="248" y="398" width="1" height="20" fill="#000"/>
<rect x="249" y="398" width="1" height="20" fill="#000"/>
<rect x="250" y="398" width="1" height="20" fill="#000"/>
<rect x="251" y="398" width="1" height="20" fill="#000"/>
<rect x="252" y="398" width="1" height="20" fill="#000"/>
<rect x="253" y="398" width="1" height="20" fill="#000"/>
<rect x="254" y="398" width="1" height="20" fill="#000"/>
<rect x="255" y="398" width="1" height="20" fill="#000"/>
<rect x="256" y="398" width="1" height="20" fill="#000"/>
<rect x="257" y="398" width="1" height="20" fill="#000"/>
<rect x="258" y="398" width="1" height="20" fill="#000"/>
<rect x="259" y="398" width="1" height="20" fill="#000"/>
<rect x="260" y="398" width="1" height="20" fill="#000"/>
<rect x="261" y="398" width="1" height="20" fill="#000"/>
<rect x="262" y="404" width="1" height="14" fill="#000"/>
<rect x="263" y="410" width="1" height="8" fill="#000"/>
<rect x="264" y="415" width="1" height="3" fill="#000"/>
<rect x="265" y="417" width="1" height="1" fill="#000"/>
<rect x="266" y="417" width="1" height="1" fill="#000"/>
<rect x="267" y="416" width="1" height="2" fill="#000"/>
<rect x="268" y="414" width="1" height="4" fill="#000"/>
<rect x="269" y="412" width="1" height="6" fill="#000"/>
<rect x="270" y="410" width="1" height="8" fill="#000"/>
<rect x="271" y="408" width="1" height="10" fill="#000"/>
<rect x="272" y="406" width="1" height="12" fill="#000"/>
<rect x="273" y="403" width="1" height="15" fill="#000"/>
<rect x="274" y="401" width="1" height="17" fill="#000"/>
<rect x="275" y="398" width="1" height="20" fill="#000"/>
<rect x="276" y="398" width="1" height="20" fill="#000"/>
<rect x="277" y="398" width="1" height="20" fill="#000"/>
<rect x="278" y="398" width="1" height="20" fill="#000"/>
<rect x="279" y="398" width="1" height="20" fill="#000"/>
<rect x="280" y="398" width="1" height="20" fill="#000"/>
<rect x="281" y="400" width="1" height="18" fill="#000"/>
<rect x="282" y="401" width="1" height="17" fill="#000"/>
<rect x="283" y="403" width="1" height="15" fill="#000"/>
<rect x="284" y="405" width="1" height="13" fill="#000"/>
<rect x="285" y="407" width="1" height="11" fill="#000"/>
<rect x="286" y="411" width="1" height="7" fill="#000"/>
<rect x="288" y="418" width="1" height="2" fill="#000"/>
<rect x="289" y="418" width="1" height="4" fill="#000"/>
<rect x="290" y="418" width="1" height="5" fill="#000"/>
<rect x="291" y="418" width="1" height="6" fill="#000"/>
<rect x="292" y="418" width="1" height="7" fill="#000"/>
<rect x="293" y="418" width="1" height="8" fill="#000"/>
<rect x="294" y="418" width="1" height="9" fill="#000"/>
<rect x="295" y="418" width="1" height="11" fill="#000"/>
<rect x="296" y="418" width="1" height="14" fill="#000"/>
<rect x="297" y="418" width="1" height="17" fill="#000"/>
<rect x="298" y="418" width="1" height="19" fill="#000"/>
<rect x="299" y="418" width="1" height="22" fill="#000"/>
<rect x="300" y="418" width="1" height="25" fill="#000"/>
<rect x="301" y="418" width="1" height="27" fill="#000"/>
<rect x="302" y="418" width="1" height="28" fill="#000"/>
<rect x="303" y="418" width="1" height="26" fill="#000"/>
<rect x="304" y="418" width="1" height="15" fill="#000"/>
<rect x="305" y="418" width="1" height="11" fill="#000"/>
<rect x="306" y="418" width="1" height="9" fill="#000"/>
<rect x="307" y="418" width="1" height="7" fill="#000"/>
<rect x="308" y="418" width="1" height="4" fill="#000"/>
<rect x="309" y="418" width="1" height="2" fill="#000"/>
<rect x="311" y="416" width="1" height="2" fill="#000"/>
<rect x="312" y="414" width="1" height="4" fill="#000"/>
<rect x="313" y="413" width="1" height="5" fill="#000"/>
<rect x="314" y="411" width="1" height="7" fill="#000"/>
<rect x="315" y="408" width="1" height="10" fill="#000"/>
<rect x="316" y="406" width="1" height="12" fill="#000"/>
<rect x="317" y="403" width="1" height="15" fill="#000"/>
<rect x="318" y="400" width="1" height="18" fill="#000"/>
<rect x="319" y="398" width="1" height="20" fill="#000"/>
<rect x="320" y="396" width="1" height="22" fill="#000"/>
<rect x="321" y="394" width="1" height="24" fill="#000"/>
<rect x="322" y="392" width="1" height="26" fill="#000"/>
<rect x="323" y="392" width="1" height="26" fill="#000"/>
<rect x="324" y="391" width="1" height="27" fill="#000"/>
<rect x="325" y="391" width="1" height="27" fill="#000"/>
<rect x="326" y="392" width="1" height="26" fill="#000"/>
<rect x="327" y="394" width="1" height="24" fill="#000"/>
<rect x="328" y="397" width="1" height="21" fill="#000"/>
<rect x="329" y="400" width="1" height="18" fill="#000"/>
<rect x="330" y="403" width="1" height="15" fill="#000"/>
<rect x="331" y="405" width="1" height="13" fill="#000"/>
<rect x="332" y="408" width="1" height="10" fill="#000"/>
<rect x="333" y="410" width="1" height="8" fill="#000"/>
<rect x="334" y="413" width="1" height="5" fill="#000"/>
<rect x="335" y="413" width="1" height="5" fill="#000"/>
<rect x="336" y="413" width="1" height="5" fill="#000"/>
<rect x="337" y="413" width="1" height="5" fill="#000"/>
<rect x="338" y="411" width="1" height="7" fill="#000"/>
<rect x="339" y="409" width="1" height="9" fill="#000"/>
<rect x="340" y="405" width="1" height="13" fill="#000"/>
<rect x="341" y="402" width="1" height="16" fill="#000"/>
<rect x="342" y="398" width="1" height="20" fill="#000"/>
<rect x="343" y="394" width="1" height="24" fill="#000"/>
<rect x="344" y="392" width="1" height="26" fill="#000"/>
<rect x="345" y="394" width="1" height="24" fill="#000"/>
<rect x="346" y="396" width="1" height="22" fill="#000"/>
<rect x="347" y="398" width="1" height="20" fill="#000"/>
<rect x="348" y="400" width="1" height="18" fill="#000"/>
<rect x="349" y="403" width="1" height="15" fill="#000"/>
<rect x="350" y="405" width="1" height="13" fill="#000"/>
<rect x="351" y="406" width="1" height="12" fill="#000"/>
<rect x="352" y="407" width="1" height="11" fill="#000"/>
<rect x="353" y="409" width="1" height="9" fill="#000"/>
<rect x="354" y="411" width="1" height="7" fill="#000"/>
<rect x="355" y="414" width="1" height="4" fill="#000"/>
<rect x="356" y="416" width="1" height="2" fill="#000"/>
<rect x="357" y="418" width="1" height="1" fill="#000"/>
<rect x="358" y="418" width="1" height="3" fill="#000"/>
<rect x="359" y="418" width="1" height="6" fill="#000"/>
<rect x="360" y="418" width="1" height="10" fill="#000"/>
<rect x="361" y="418" width="1" height="13" fill="#000"/>
<rect x="362" y="418" width="1" height="16" fill="#000"/>
<rect x="363" y="418" width="1" height="18" fill="#000"/>
<rect x="364" y="418" width="1" height="20" fill="#000"/>
<rect x="365" y="418" width="1" height="21" fill="#000"/>
<rect x="366" y="418" width="1" height="21" fill="#000"/>
<rect x="367" y="418" width="1" height="22" fill="#000"/>
<rect x="368" y="418" width="1" height="22" fill="#000"/>
<rect x="369" y="418" width="1" height="23" fill="#000"/>
<rect x="370" y="418" width="1" height="23" fill="#000"/>
<rect x="371" y="418" width="1" height="24" fill="#000"/>
<rect x="372" y="418" width="1" height="26" fill="#000"/>
<rect x="373" y="418" width="1" height="27" fill="#000"/>
<rect x="374" y="418" width="1" height="29" fill="#000"/>
<rect x="375" y="418" width="1" height="30" fill="#000"/>
<rect x="376" y="418" width="1" height="32" fill="#000"/>
<rect x="377" y="418" width="1" height="34" fill="#000"/>
<rect x="378" y="418" width="1" height="35" fill="#000"/>
<rect x="379" y="418" width="1" height="36" fill="#000"/>
<rect x="380" y="418" width="1" height="37" fill="#000"/>
<rect x="381" y="418" width="1" height="37" fill="#000"/>
<rect x="382" y="418" width="1" height="37" fill="#000"/>
<rect x="383" y="418" width="1" height="36" fill="#000"/>
<rect x="384" y="418" width="1" height="35" fill="#000"/>
<rect x="385" y="418" width="1" height="34" fill="#000"/>
<rect x="386" y="418" width="1" height="33" fill="#000"/>
<rect x="387" y="418" width="1" height="33" fill="#000"/>
<rect x="388" y="418" width="1" height="33" fill="#000"/>
<rect x="389" y="418" width="1" height="33" fill="#000"/>
<rect x="390" y="418" width="1" height="34" fill="#000"/>
<rect x="391" y="418" width="1" height="33" fill="#000"/>
<rect x="392" y="418" width="1" height="32" fill="#000"/>
<rect x="393" y="418" width="1" height="32" fill="#000"/>
<rect x="394" y="418" width="1" height="31" fill="#000"/>
<rect x="395" y="418" width="1" height="32" fill="#000"/>
<rect x="396" y="418" width="1" height="33" fill="#000"/>
<rect x="397" y="418" width="1" height="34" fill="#000"/>
<rect x="398" y="418" width="1" height="34" fill="#000"/>
<rect x="399" y="418" width="1" height="33" fill="#000"/>
<rect x="400" y="418" width="1" height="32" fill="#000"/>
<rect x="401" y="418" width="1" height="35" fill="#000"/>
<rect x="402" y="418" width="1" height="37" fill="#000"/>
<rect x="403" y="418" width="1" height="40" fill="#000"/>
<rect x="404" y="418" width="1" height="43" fill="#000"/>
<rect x="405" y="418" width="1" height="45" fill="#000"/>
<rect x="406" y="418" width="1" height="49" fill="#000"/>
<rect x="407" y="418" width="1" height="48" fill="#000"/>
<rect x="408" y="418" width="1" height="45" fill="#000"/>
<rect x="409" y="418" width="1" height="43" fill="#000"/>
<rect x="410" y="418" width="1" height="46" fill="#000"/>
<rect x="411" y="418" width="1" height="49" fill="#000"/>
<rect x="412" y="418" width="1" height="49" fill="#000"/>
<rect x="413" y="418" width="1" height="46" fill="#000"/>
<rect x="414" y="418" width="1" height="45" fill="#000"/>
<rect x="415" y="418" width="1" height="44" fill="#000"/>
<rect x="416" y="418" width="1" height="41" fill="#000"/>
<rect x="417" y="418" width="1" height="38" fill="#000"/>
<rect x="418" y="418" width="1" height="35" fill="#000"/>
<rect x="419" y="418" width="1" height="34" fill="#000"/>
<rect x="420" y="418" width="1" height="33" fill="#000"/>
<rect x="421" y="418" width="1" height="34" fill="#000"/>
<rect x="422" y="418" width="1" height="38" fill="#000"/>
<rect x="423" y="418" width="1" height="44" fill="#000"/>
<rect x="424" y="418" width="1" height="43" fill="#000"/>
<rect x="425" y="418" width="1" height="36" fill="#000"/>
<rect x="426" y="418" width="1" height="30" fill="#000"/>
<rect x="427" y="418" width="1" height="23" fill="#000"/>
<rect x="428" y="418" width="1" height="16" fill="#000"/>
<rect x="429" y="418" width="1" height="11" fill="#000"/>
<rect x="430" y="418" width="1" height="6" fill="#000"/>
<rect x="431" y="418" width="1" height="3" fill="#000"/>
<rect x="432" y="418" width="1" height="1" fill="#000"/>
<rect x="433" y="415" width="1" height="3" fill="#000"/>
<rect x="434" y="412" width="1" height="6" fill="#000"/>
<rect x="435" y="410" width="1" height="8" fill="#000"/>
<rect x="436" y="412" width="1" height="6" fill="#000"/>
<rect x="437" y="415" width="1" height="3" fill="#000"/>
<rect x="438" y="418" width="1" height="1" fill="#000"/>
<rect x="439" y="418" width="1" height="5" fill="#000"/>
<rect x="440" y="418" width="1" height="8" fill="#000"/>
<rect x="441" y="418" width="1" height="10" fill="#000"/>
<rect x="442" y="418" width="1" height="12" fill="#000"/>
<rect x="443" y="418" width="1" height="14" fill="#000"/>
<rect x="444" y="418" width="1" height="16" fill="#000"/>
<rect x="445" y="418" width="1" height="16" fill="#000"/>
<rect x="446" y="418" width="1" height="14" fill="#000"/>
<rect x="447" y="418" width="1" height="11" fill="#000"/>
<rect x="448" y="418" width="1" height="7" fill="#000"/>
<rect x="449" y="418" width="1" height="3" fill="#000"/>
<rect x="451" y="415" width="1" height="3" fill="#000"/>
<rect x="452" y="416" width="1" height="2" fill="#000"/>
<rect x="453" y="418" width="1" height="1" fill="#000"/>
<rect x="454" y="418" width="1" height="4" fill="#000"/>
<rect x="455" y="418" width="1" height="6" fill="#000"/>
<rect x="456" y="418" width="1" height="7" fill="#000"/>
<rect x="457" y="418" width="1" height="7" fill="#000"/>
<rect x="458" y="418" width="1" height="6" fill="#000"/>
<rect x="459" y="418" width="1" height="5" fill="#000"/>
<rect x="460" y="418" width="1" height="2" fill="#000"/>
<rect x="462" y="417" width="1" height="1" fill="#000"/>
<rect x="463" y="414" width="1" height="4" fill="#000"/>
<rect x="464" y="413" width="1" height="5" fill="#000"/>
<rect x="465" y="413" width="1" height="5" fill="#000"/>
<rect x="466" y="413" width="1" height="5" fill="#000"/>
<rect x="467" y="414" width="1" height="4" fill="#000"/>
<rect x="468" y="415" width="1" height="3" fill="#000"/>
<rect x="469" y="415" width="1" height="3" fill="#000"/>
<rect x="470" y="416" width="1" height="2" fill="#000"/>
<rect x="471" y="417" width="1" height="1" fill="#000"/>
<rect x="472" y="417" width="1" height="1" fill="#000"/>
<rect x="474" y="418" width="1" height="1" fill="#000"/>
<rect x="475" y="418" width="1" height="3" fill="#000"/>
<rect x="476" y="418" width="1" height="2" fill="#000"/>
<rect x="477" y="418" width="1" height="1" fill="#000"/>
<rect x="479" y="417" width="1" height="1" fill="#000"/>
<rect x="480" y="417" width="1" height="1" fill="#000"/>
<rect x="481" y="417" width="1" height="1" fill="#000"/>
<rect x="482" y="417" width="1" height="1" fill="#000"/>
<rect x="483" y="417" width="1" height="1" fill="#000"/>
<rect x="484" y="417" width="1" height="1" fill="#000"/>
</g>
<polyline points="3.5,423.0 4.5,423.8 5.5,424.7 6.5,425.6 7.5,426.6 8.5,428.4 9.5,430.2 10.5,432.0 11.5,433.7 12.5,435.4 13.5,437.1 14.5,438.7 15.5,440.0 16.5,440.7 17.5,440.4 18.5,439.6 19.5,438.7 20.5,437.9 21.5,437.3 22.5,437.3 23.5,437.3 24.5,437.0 25.5,436.1 26.5,434.5 27.5,432.6 28.5,430.4 29.5,428.0 30.5,425.8 31.5,423.9 32.5,422.3 33.5,421.2 34.5,420.5 35.5,420.3 36.5,420.7 37.5,421.6 38.5,423.1 39.5,425.0 40.5,426.9 41.5,428.6 42.5,429.7 43.5,430.0 44.5,429.5 45.5,428.3 46.5,426.8 47.5,425.2 48.5,424.0 49.5,423.5 50.5,423.7 51.5,424.7 52.5,426.3 53.5,428.3 54.5,430.5 55.5,432.7 56.5,434.8 57.5,436.5 58.5,437.9 59.5,439.0 60.5,439.9 61.5,440.5 62.5,441.0 63.5,441.6 64.5,442.0 65.5,442.4 66.5,442.8 67.5,443.1 68.5,443.3 69.5,443.7 70.5,444.2 71.5,444.7 72.5,445.4 73.5,446.1 74.5,446.8 75.5,447.4 76.5,447.9 77.5,448.2 78.5,447.9 79.5,444.0 80.5,439.9 81.5,435.9 82.5,432.2 83.5,429.2 84.5,429.9 85.5,430.9 86.5,431.9 87.5,432.9 88.5,433.7 89.5,434.5 90.5,435.0 91.5,435.3 92.5,435.3 93.5,435.1 94.5,434.6 95.5,434.1 96.5,433.7 97.5,433.2 98.5,432.9 99.5,432.5 100.5,431.6 101.5,430.3 102.5,428.7 103.5,426.7 104.5,424.5 105.5,422.4 106.5,420.1 107.5,417.5 108.5,414.6 109.5,411.5 110.5,408.6 111.5,406.5 112.5,405.3 113.5,404.9 114.5,405.3 115.5,406.0 116.5,406.7 117.5,407.2 118.5,407.6 119.5,407.9 120.5,408.1 121.5,408.2 122.5,408.4 123.5,408.7 124.5,409.2 125.5,409.8 126.5,410.5 127.5,411.2 128.5,411.8 129.5,412.5 130.5,413.2 131.5,414.0 132.5,414.9 133.5,415.9 134.5,416.8 135.5,417.3 136.5,417.3 137.5,416.8 138.5,415.4 139.5,413.4 140.5,410.8 141.5,408.0 142.5,405.2 143.5,402.8 144.5,401.0 145.5,399.8 146.5,399.1 147.5,398.6 148.5,398.3 149.5,398.2 150.5,398.1 151.5,398.0 152.5,398.0 153.5,398.1 154.5,398.2 155.5,398.4 156.5,398.9 157.5,399.6 158.5,400.5 159.5,401.6 160.5,402.7 161.5,403.8 162.5,404.9 163.5,405.9 164.5,407.0 165.5,407.7 166.5,407.8 167.5,407.1 168.5,406.1 169.5,405.6 170.5,405.8 171.5,406.9 172.5,409.0 173.5,411.8 174.5,414.1 175.5,416.3 176.5,418.1 177.5,419.6 178.5,420.8 179.5,421.6 180.5,422.1 181.5,422.5 182.5,422.8 183.5,423.2 184.5,423.7 185.5,424.6 186.5,426.0 187.5,427.9 188.5,430.1 189.5,432.6 190.5,435.0 191.5,437.1 192.5,438.6 193.5,439.5 194.5,440.1 195.5,440.5 196.5,441.2 197.5,442.3 198.5,443.7 199.5,445.2 200.5,446.3 201.5,447.2 202.5,447.8 203.5,448.3 204.5,449.0 205.5,449.7 206.5,450.4 207.5,450.6 208.5,449.8 209.5,446.5 210.5,442.6 211.5,438.8 212.5,435.4 213.5,432.7 214.5,432.4 215.5,431.5 216.5,430.0 217.5,427.8 218.5,425.2 219.5,422.4 220.5,419.9 221.5,417.2 222.5,414.4 223.5,411.5 224.5,408.3 225.5,405.7 226.5,404.2 227.5,403.1 228.5,402.2 229.5,401.7 230.5,401.1 231.5,400.2 232.5,399.4 233.5,399.0 234.5,398.7 235.5,398.5 236.5,398.5 237.5,398.4 238.5,398.4 239.5,398.3 240.5,398.3 241.5,398.2 242.5,398.1 243.5,398.1 244.5,398.1 245.5,398.1 246.5,398.1 247.5,398.2 248.5,398.2 249.5,398.2 250.5,398.2 251.5,398.2 252.5,398.2 253.5,398.2 254.5,398.2 255.5,398.2 256.5,398.2 257.5,398.2 258.5,398.2 259.5,398.2 260.5,398.2 261.5,398.3 262.5,399.4 263.5,401.7 264.5,405.0 265.5,408.8 266.5,412.6 267.5,415.0 268.5,415.8 269.5,415.3 270.5,413.9 271.5,412.2 272.5,410.2 273.5,408.1 274.5,405.8 275.5,403.4 276.5,401.4 277.5,399.8 278.5,398.8 279.5,398.3 280.5,398.3 281.5,398.5 282.5,399.1 283.5,400.1 284.5,401.3 285.5,403.1 286.5,405.5 287.5,408.8 288.5,412.2 289.5,415.7 290.5,418.8 291.5,421.4 292.5,422.9 293.5,424.1 294.5,425.2 295.5,426.4 296.5,428.0 297.5,429.8 298.5,432.1 299.5,434.6 300.5,437.4 301.5,439.9 302.5,442.1 303.5,443.5 304.5,442.1 305.5,439.3 306.5,435.8 307.5,431.6 308.5,427.2 309.5,424.6 310.5,422.6 311.5,420.3 312.5,418.1 313.5,416.2 314.5,414.3 315.5,412.3 316.5,410.2 317.5,408.0 318.5,405.5 319.5,403.0 320.5,400.5 321.5,398.1 322.5,396.0 323.5,394.3 324.5,392.9 325.5,392.0 326.5,391.6 327.5,392.0 328.5,393.1 329.5,394.9 330.5,397.1 331.5,399.9 332.5,402.6 333.5,405.1 334.5,407.8 335.5,409.9 336.5,411.4 337.5,412.4 338.5,412.6 339.5,411.6 340.5,410.1 341.5,408.0 342.5,405.1 343.5,401.8 344.5,398.5 345.5,396.1 346.5,394.8 347.5,394.8 348.5,396.0 349.5,398.0 350.5,400.2 351.5,402.4 352.5,404.2 353.5,405.9 354.5,407.6 355.5,409.3 356.5,411.3 357.5,413.6 358.5,416.1 359.5,418.8 360.5,421.6 361.5,424.6 362.5,427.5 363.5,430.4 364.5,433.1 365.5,435.3 366.5,437.0 367.5,438.2 368.5,439.0 369.5,439.6 370.5,440.2 371.5,440.8 372.5,441.6 373.5,442.6 374.5,443.9 375.5,445.3 376.5,446.8 377.5,448.5 378.5,450.1 379.5,451.6 380.5,452.8 381.5,453.8 382.5,454.4 383.5,454.6 384.5,454.4 385.5,453.8 386.5,452.9 387.5,452.1 388.5,451.4 389.5,451.0 390.5,451.0 391.5,451.0 392.5,450.9 393.5,450.7 394.5,450.3 395.5,450.0 396.5,450.1 397.5,450.4 398.5,450.7 399.5,451.1 400.5,451.2 401.5,451.5 402.5,452.3 403.5,453.6 404.5,455.5 405.5,458.1 406.5,461.1 407.5,463.2 408.5,464.2 409.5,464.4 410.5,464.4 411.5,464.3 412.5,464.4 413.5,464.6 414.5,464.9 415.5,464.6 416.5,463.2 417.5,461.1 418.5,458.9 419.5,456.6 420.5,454.3 421.5,452.9 422.5,452.9 423.5,454.6 424.5,456.5 425.5,457.0 426.5,456.1 427.5,453.2 428.5,447.6 429.5,441.2 430.5,435.2 431.5,430.0 432.5,425.5 433.5,421.6 434.5,418.2 435.5,415.4 436.5,413.5 437.5,412.7 438.5,413.5 439.5,415.6 440.5,418.9 441.5,422.2 442.5,425.3 443.5,428.0 444.5,430.3 445.5,431.8 446.5,432.5 447.5,432.3 448.5,430.8 449.5,428.2 450.5,425.1 451.5,421.8 452.5,419.2 453.5,418.0 454.5,418.2 455.5,419.4 456.5,421.3 457.5,423.0 458.5,424.0 459.5,424.2 460.5,423.5 461.5,422.1 462.5,420.5 463.5,418.5 464.5,416.7 465.5,415.2 466.5,414.2 467.5,413.6 468.5,413.7 469.5,414.1 470.5,414.7 471.5,415.3 472.5,416.0 473.5,416.7 474.5,417.5 475.5,418.4 476.5,419.1 477.5,419.3 478.5,419.2 479.5,418.9 480.5,418.1 481.5,417.4 482.5,417.0 483.5,416.8 484.5,416.7" fill="none" stroke="#ff0000" stroke-width="1" stroke-dasharray="3 3" shape-rendering="crispEdges" clip-path="url(#ic)"/>
<g stroke="#c0c0c0" stroke-width="1" stroke-dasharray="3 3" shape-rendering="crispEdges">
<line x1="3" y1="409.5" x2="630" y2="409.5"/>
<line x1="3" y1="447.5" x2="630" y2="447.5"/>
</g>
<polyline points="3.6,424.0 4.8,431.2 6.0,439.6 7.0,442.0 7.8,438.4 9.0,439.0 10.8,444.4 12.6,446.2 14.4,446.2 15.4,445.0 16.6,436.0 18.0,430.0 19.0,448.0 19.8,446.8 20.6,438.4 22.2,438.4 24.0,436.0 25.2,434.8 25.8,421.6 27.0,421.0 28.2,428.8 30.0,428.8 31.8,424.6 33.0,425.2 34.8,432.4 36.6,437.2 38.4,440.2 39.8,440.8 41.4,436.0 43.0,430.0 44.4,431.2 46.2,427.0 48.0,428.2 49.2,434.2 51.0,436.6 52.8,439.6 53.8,446.2 55.0,440.8 56.4,441.4 57.6,443.2 59.4,441.4 61.2,445.0 63.6,447.4 65.4,445.6 67.2,444.4 69.0,439.0 69.8,445.6 71.4,447.4 73.2,449.8 75.0,451.6 76.2,450.4 77.8,452.2 79.0,448.0 79.6,428.8 80.4,427.4 81.8,428.6 83.6,431.0 85.0,426.2 86.0,435.8 87.2,441.2 89.0,437.6 90.8,438.8 92.6,435.2 94.4,433.4 96.2,437.0 98.0,438.8 99.8,437.0 101.4,429.8 102.2,425.0 104.0,429.8 105.2,428.6 106.4,420.2 108.2,415.4 110.0,413.0 111.4,417.8 113.0,420.8 114.2,423.8 116.0,420.2 117.8,422.6 119.6,420.2 122.0,420.8 123.8,425.0 125.4,429.2 126.8,426.2 128.0,420.8 129.4,423.8 131.0,429.8 132.8,435.8 134.0,429.8 135.4,428.0 137.0,421.4 138.8,417.2 140.6,413.0 142.4,411.2 144.2,408.8 146.0,412.4 147.8,408.8 149.6,406.4 151.4,405.8 153.2,404.6 154.6,408.2 155.4,422.6 156.8,426.2 158.6,420.2 160.2,416.6 161.8,420.2 163.4,425.0 164.8,426.8 166.0,421.4 167.2,413.0 168.4,415.4 169.6,423.8 170.8,429.8 172.6,432.2 174.4,434.6 176.2,436.4 178.0,434.6 179.8,434.0 181.6,436.4 183.4,438.8 185.2,442.4 187.0,446.6 188.8,450.2 190.0,449.6 191.8,446.6 193.6,450.2 195.4,452.0 197.2,453.8 199.0,450.2 200.8,449.0 202.6,451.4 205.0,453.8 206.8,453.8 208.0,451.4 208.8,438.2 209.8,433.4 211.0,431.6 212.8,434.0 214.6,433.4 215.8,429.8 217.0,423.8 218.2,419.0 219.4,416.6 220.6,414.2 222.4,416.0 224.2,415.4 225.4,420.2 226.2,425.0 227.4,421.4 228.6,416.6 229.8,413.0 231.4,413.6 233.2,411.2 235.0,410.6 236.8,411.8 238.0,410.6 239.2,416.0 240.4,416.0 241.8,413.4 243.0,409.8 244.8,406.8 246.0,408.6 247.8,407.4 249.6,406.2 251.4,404.4 252.6,403.8 253.8,405.6 255.0,405.0 256.8,407.4 258.0,405.0 259.2,411.0 260.4,416.4 261.6,422.4 262.8,432.0 263.6,440.4 264.6,438.0 265.8,429.6 267.0,428.4 268.2,423.0 269.4,425.4 271.2,423.6 273.0,417.6 274.8,411.6 276.0,409.8 277.2,412.8 278.4,411.6 279.4,420.0 280.8,419.4 282.0,422.4 283.8,421.2 285.4,424.8 286.8,434.4 288.0,440.4 289.2,438.0 291.0,433.8 292.8,436.8 294.6,440.4 296.4,444.0 298.2,447.6 300.0,448.8 302.4,449.4 303.6,446.4 304.4,435.6 305.4,429.6 307.2,428.4 309.0,423.6 310.8,421.8 312.6,421.2 314.4,417.6 316.2,420.0 317.4,414.0 319.2,411.6 320.0,410.2 321.8,409.0 323.6,407.8 325.4,408.4 327.0,410.8 328.4,415.6 329.6,421.0 331.0,425.8 332.0,424.6 333.2,429.4 334.2,433.0 335.0,424.6 336.2,423.4 337.0,428.2 338.0,422.2 339.8,419.2 341.4,416.2 342.2,407.2 343.4,412.6 344.6,415.0 345.8,416.8 347.6,421.0 348.8,424.6 350.6,423.4 351.8,419.8 353.0,425.8 354.8,430.6 356.6,433.6 357.8,434.2 359.0,439.0 359.8,441.4 361.6,445.6 363.4,448.0 365.2,446.8 367.0,447.4 368.8,450.4 370.6,450.4 372.4,449.2 374.2,452.8 376.0,456.4 377.8,457.6 380.2,457.0 382.6,457.0 385.0,456.4 386.8,458.8 388.6,461.8 390.4,463.0 391.6,460.0 392.2,448.0 392.8,440.8 394.0,441.4 395.2,445.6 396.4,451.6 397.6,454.0 398.8,449.2 400.4,445.6 401.2,437.8 402.0,444.4 403.6,447.4 405.4,448.0 406.8,445.0 408.4,443.2 409.6,446.2 410.8,449.2 412.4,446.8 413.8,443.8 415.6,440.8 417.2,436.0 418.6,437.8 420.4,440.8 422.2,445.6 423.4,448.0 424.4,442.0 425.2,434.8 427.0,433.0 428.8,430.0 430.0,426.4 431.2,422.8 433.0,421.6 434.8,422.2 436.6,424.5 438.6,429.2 440.4,433.4 442.2,436.4 444.0,437.6 445.8,435.8 447.6,433.4 449.4,423.8 451.0,422.6 452.4,427.4 453.6,434.6 455.0,437.6 456.6,435.8 458.2,428.6 459.6,426.8 461.4,426.2 463.2,425.0 464.4,423.2 466.2,425.6 468.0,426.8 469.8,428.0 471.6,429.8 472.8,428.0 474.2,433.4 475.2,434.6 476.4,425.0 478.2,427.4 480.0,426.8 481.8,427.4 483.6,426.4" fill="none" stroke="#1e90ff" stroke-width="2.7" stroke-linejoin="round"/>
</svg></body></html>
